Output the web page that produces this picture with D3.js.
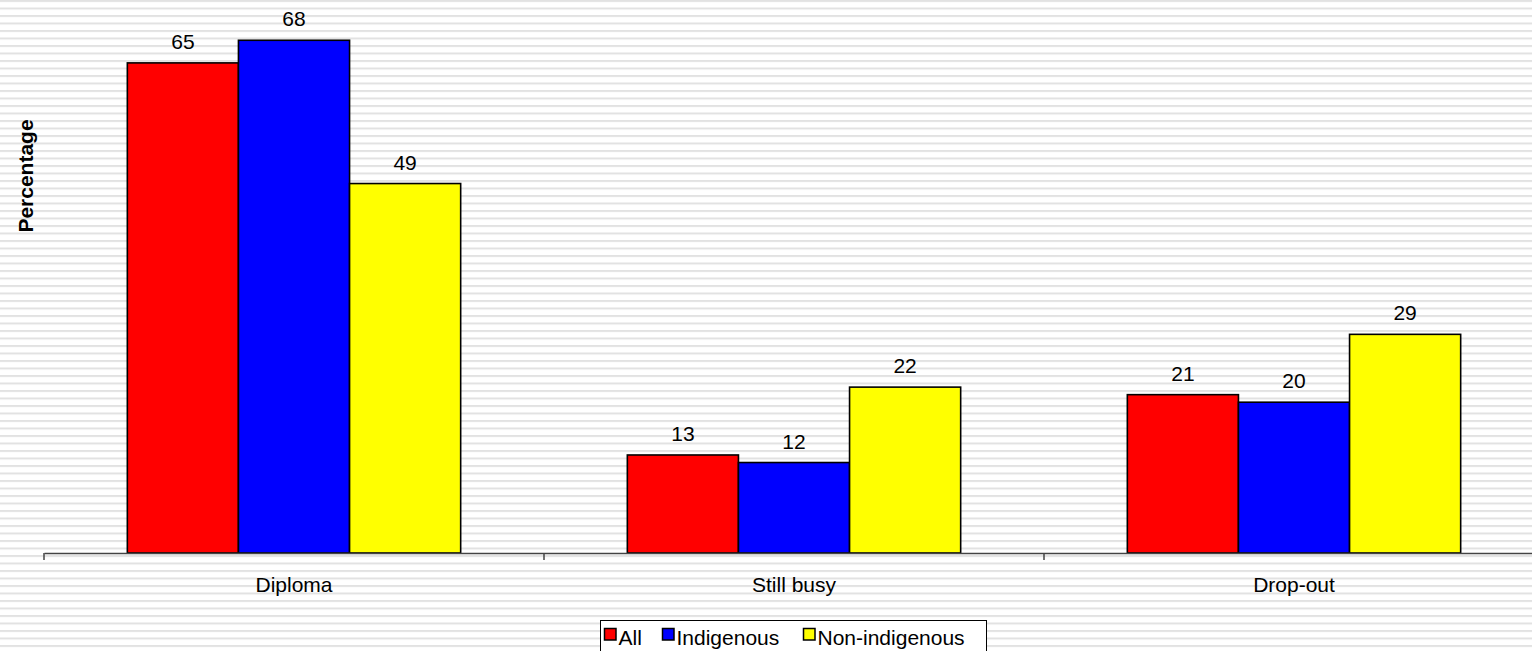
<!DOCTYPE html>
<html>
<head>
<meta charset="utf-8">
<script src="https://cdn.jsdelivr.net/npm/d3@7"></script>
<style>
  html, body { margin: 0; padding: 0; background: #fff; }
  svg { display: block; font-family: "Liberation Sans", Arial, sans-serif; }
</style>
</head>
<body>
<svg id="chart" width="1532" height="651"></svg>
<script>
// Outcome categories and the three population series (percentages)
const categories = ["Diploma", "Still busy", "Drop-out"];
const seriesNames = ["All", "Indigenous", "Non-indigenous"];
const seriesColors = ["#ff0000", "#0000ff", "#ffff00"];
const allValues = [65, 13, 21];
const indigenousValues = [68, 12, 20];
const nonIndigenousValues = [49, 22, 29];
const seriesValues = [allValues, indigenousValues, nonIndigenousValues];

const W = 1532, H = 651;
const FONT = 21;
const svg = d3.select("#chart");

// striped backdrop
const defs = svg.append("defs");
const pat = defs.append("pattern")
  .attr("id", "stripes")
  .attr("patternUnits", "userSpaceOnUse")
  .attr("width", 8).attr("height", 7.5);
pat.append("rect").attr("width", 8).attr("height", 7.5).attr("fill", "#ffffff");
pat.append("rect").attr("y", 0).attr("width", 8).attr("height", 2).attr("fill", "#e2e2e2");
svg.append("rect").attr("width", W).attr("height", H).attr("fill", "url(#stripes)");

const plot = { left: 44, right: 1544, top: 25.2, bottom: 553 };

const x0 = d3.scaleBand().domain(categories).range([plot.left, plot.right]).padding(0);
const x1 = d3.scaleBand().domain(seriesNames).range([0, x0.bandwidth()])
  .paddingOuter(0.75).paddingInner(0);
const y = d3.scaleLinear().domain([0, 70]).range([plot.bottom, plot.top]);

// bars
const groups = svg.append("g").selectAll("g")
  .data(categories)
  .join("g")
  .attr("transform", d => `translate(${x0(d)},0)`);

groups.selectAll("rect")
  .data((c, ci) => seriesNames.map((s, si) => ({ s, si, v: seriesValues[si][ci] })))
  .join("rect")
  .attr("x", d => x1(d.s))
  .attr("y", d => y(d.v))
  .attr("width", x1.bandwidth())
  .attr("height", d => y(0) - y(d.v))
  .attr("fill", d => seriesColors[d.si])
  .attr("stroke", "#000")
  .attr("stroke-width", 1.6);

// value labels
groups.selectAll("text.val")
  .data((c, ci) => seriesNames.map((s, si) => ({ s, si, v: seriesValues[si][ci] })))
  .join("text")
  .attr("class", "val")
  .attr("x", d => x1(d.s) + x1.bandwidth() / 2)
  .attr("y", d => y(d.v) - 14)
  .attr("text-anchor", "middle")
  .attr("font-size", FONT)
  .attr("fill", "#000")
  .text(d => d.v);

// x axis
const xAxis = svg.append("g")
  .attr("transform", `translate(0,${plot.bottom})`)
  .call(d3.axisBottom(x0).tickSize(0).tickPadding(24));
xAxis.select(".domain").attr("stroke", "#444").attr("stroke-width", 1.5);
xAxis.selectAll(".tick text").attr("font-size", FONT).attr("fill", "#000")
  .attr("font-family", "Liberation Sans, Arial, sans-serif");

// category boundary ticks
const boundaries = categories.map(c => x0(c)).concat([plot.right]);
svg.append("g").selectAll("line")
  .data(boundaries)
  .join("line")
  .attr("x1", d => d).attr("x2", d => d)
  .attr("y1", plot.bottom).attr("y2", plot.bottom + 7)
  .attr("stroke", "#444").attr("stroke-width", 1.5);

// y axis title
svg.append("text")
  .attr("transform", `translate(33,${(120 + 232) / 2}) rotate(-90)`)
  .attr("text-anchor", "middle")
  .attr("font-size", FONT)
  .attr("font-weight", "bold")
  .attr("fill", "#000")
  .text("Percentage");

// legend
const legend = svg.append("g").attr("transform", "translate(600.5,620.5)");
legend.append("rect")
  .attr("width", 386).attr("height", 40)
  .attr("fill", "#fff").attr("stroke", "#000").attr("stroke-width", 1);
const legendX = [4, 62, 203];
const items = legend.selectAll("g.item")
  .data(seriesNames)
  .join("g")
  .attr("class", "item")
  .attr("transform", (d, i) => `translate(${legendX[i]},0)`);
items.append("rect")
  .attr("x", 0).attr("y", 8)
  .attr("width", 11.5).attr("height", 11.5)
  .attr("fill", (d, i) => seriesColors[i])
  .attr("stroke", "#000").attr("stroke-width", 1.5);
items.append("text")
  .attr("x", 14).attr("y", 24.5)
  .attr("font-size", FONT)
  .attr("fill", "#000")
  .text(d => d);
</script>
</body>
</html>
